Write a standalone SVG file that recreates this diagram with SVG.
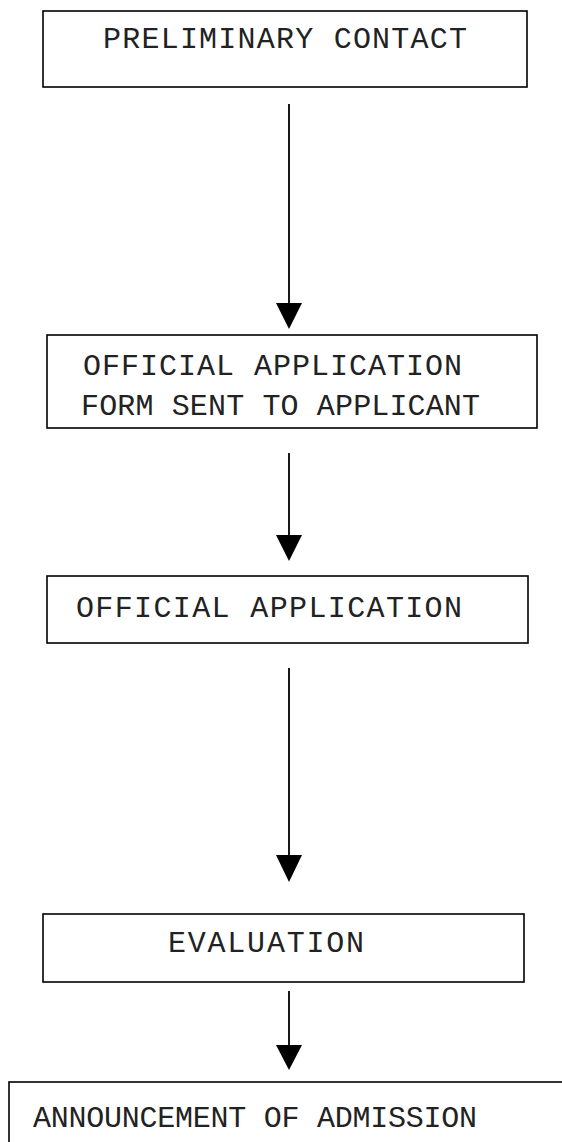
<svg xmlns="http://www.w3.org/2000/svg" width="562" height="1142" viewBox="0 0 562 1142">
<style>
.box{fill:#fff;stroke:#000;stroke-width:1.6}
.t{font-family:"Liberation Mono","Courier New",monospace;font-size:30px;fill:#222}
.ln{stroke:#000;stroke-width:1.8;fill:none}
.hd{fill:#000}
</style>
<rect width="562" height="1142" fill="#fff"/>
<g id="connectors">
<line class="ln" x1="289" y1="104" x2="289" y2="305"/>
<polygon class="hd" points="276,303 302,303 289,329"/>
<line class="ln" x1="289" y1="453" x2="289" y2="537"/>
<polygon class="hd" points="276,535 302,535 289,561"/>
<line class="ln" x1="289" y1="668" x2="289" y2="857"/>
<polygon class="hd" points="276,855 302,855 289,882"/>
<line class="ln" x1="289" y1="991" x2="289" y2="1047"/>
<polygon class="hd" points="276,1045 302,1045 289,1070"/>
</g>
<g id="n1">
<rect class="box" x="43" y="11" width="484" height="76"/>
<text class="t" x="103" y="48" textLength="364" lengthAdjust="spacing">PRELIMINARY CONTACT</text>
</g>
<g id="n2">
<rect class="box" x="47" y="335" width="490" height="93"/>
<text class="t" x="83" y="375" textLength="379" lengthAdjust="spacing">OFFICIAL APPLICATION</text>
<text class="t" x="81" y="415" textLength="399" lengthAdjust="spacing">FORM SENT TO APPLICANT</text>
</g>
<g id="n3">
<rect class="box" x="47" y="576" width="481" height="67"/>
<text class="t" x="76" y="617" textLength="386" lengthAdjust="spacing">OFFICIAL APPLICATION</text>
</g>
<g id="n4">
<rect class="box" x="43" y="914" width="481" height="68"/>
<text class="t" x="168" y="952" textLength="196" lengthAdjust="spacing">EVALUATION</text>
</g>
<g id="n5">
<rect class="box" x="9" y="1082" width="600" height="100"/>
<text class="t" x="33" y="1127" textLength="444" lengthAdjust="spacing">ANNOUNCEMENT OF ADMISSION</text>
</g>
</svg>
